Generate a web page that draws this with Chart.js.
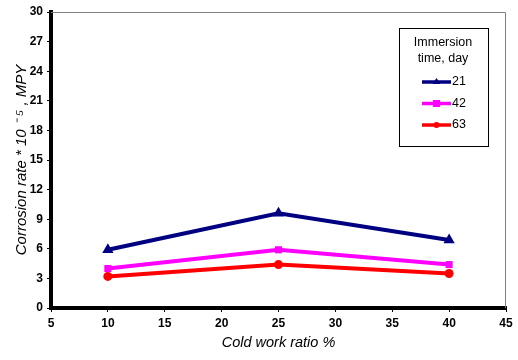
<!DOCTYPE html>
<html><head><meta charset="utf-8">
<script src="https://cdn.jsdelivr.net/npm/chart.js@4/dist/chart.umd.min.js"></script>
<style>html,body{margin:0;padding:0;background:#fff}#wrap{width:518px;height:360px;position:relative}</style>
</head><body><div id="wrap"><canvas id="c" width="518" height="360"></canvas></div>
<script>
const coldWork = [10, 25, 40];
const seriesNames = ['21', '42', '63'];
const rate21 = [5.9, 9.6, 6.9];
const rate42 = [4.0, 5.9, 4.4];
const rate63 = [3.2, 4.4, 3.5];
const yTicks = [0, 3, 6, 9, 12, 15, 18, 21, 24, 27, 30];
const xTicks = [5, 10, 15, 20, 25, 30, 35, 40, 45];
const legendTitle = ['Immersion', 'time, day'];

const pts = v => coldWork.map((x, i) => ({x, y: v[i]}));
const tickFont = {family: '"Liberation Sans", Arial, sans-serif', size: 12, weight: 'bold'};
const xTitleFont = {family: '"Liberation Sans", Arial, sans-serif', size: 14.5, style: 'italic'};
const yTitleFont = {family: '"Liberation Sans", Arial, sans-serif', size: 15, style: 'italic'};

const frame = {
  id: 'frame',
  afterDatasetsDraw(chart) {
    const {ctx, chartArea: a} = chart;
    ctx.save();
    ctx.strokeStyle = '#808080'; ctx.lineWidth = 1;
    ctx.beginPath();
    ctx.moveTo(a.left, a.top + 0.5); ctx.lineTo(a.right - 0.5, a.top + 0.5); ctx.lineTo(a.right - 0.5, a.bottom);
    ctx.stroke();
    // legend box
    const bx = 399, by = 28, bw = 89, bh = 118;
    ctx.fillStyle = '#fff'; ctx.fillRect(bx, by, bw, bh);
    ctx.strokeStyle = '#000'; ctx.lineWidth = 1;
    ctx.strokeRect(bx + 0.5, by + 0.5, bw, bh);
    ctx.fillStyle = '#000';
    ctx.font = '12.5px "Liberation Sans", Arial, sans-serif';
    ctx.textAlign = 'center'; ctx.textBaseline = 'middle';
    legendTitle.forEach((t, i) => ctx.fillText(t, 443, 43 + i * 16));
    chart.data.datasets.forEach((ds, i) => {
      const y = 82 + i * 21.5;
      ctx.strokeStyle = ds.borderColor; ctx.lineWidth = 3.5;
      ctx.beginPath(); ctx.moveTo(422, y); ctx.lineTo(451, y); ctx.stroke();
      ctx.fillStyle = ds.borderColor;
      const m = 436.5;
      if (ds.pointStyle === 'triangle') {
        ctx.beginPath(); ctx.moveTo(m, y - 4); ctx.lineTo(m + 4, y + 2); ctx.lineTo(m - 4, y + 2); ctx.closePath(); ctx.fill();
      } else if (ds.pointStyle === 'rect') {
        ctx.fillRect(m - 3.5, y - 3.5, 7, 7);
      } else {
        ctx.beginPath(); ctx.arc(m, y, 3, 0, Math.PI * 2); ctx.fill();
      }
      ctx.fillStyle = '#000'; ctx.textAlign = 'left';
      ctx.fillText(ds.label, 452, y);
      ctx.textAlign = 'center';
    });
    ctx.restore();
  }
};

const mk = (label, data, color, style, r) => ({
  label, data: pts(data), borderColor: color, backgroundColor: color,
  borderWidth: 4, pointStyle: style, pointRadius: r, pointBorderWidth: 0, tension: 0
});

new Chart(document.getElementById('c'), {
  type: 'line',
  data: {datasets: [
    mk(seriesNames[0], rate21, '#000080', 'triangle', 6.5),
    mk(seriesNames[1], rate42, '#FF00FF', 'rect', 5),
    mk(seriesNames[2], rate63, '#FF0000', 'circle', 4.5)
  ]},
  options: {
    responsive: false, animation: false,
    layout: {padding: {top: 12, right: 12, left: 0, bottom: 0}},
    plugins: {legend: {display: false}, tooltip: {enabled: false}},
    scales: {
      x: {
        type: 'linear', min: 5, max: 45,
        afterBuildTicks: s => { s.ticks = xTicks.map(v => ({value: v})); },
        afterFit: s => { s.height = 52; },
        grid: {drawOnChartArea: false, drawTicks: true, tickLength: 4, color: '#000', tickWidth: 1},
        border: {display: true, color: '#000', width: 4},
        ticks: {color: '#000', font: tickFont, padding: 4, maxRotation: 0},
        title: {display: true, text: 'Cold work ratio %', color: '#000', font: xTitleFont, padding: {top: 0, bottom: 8}}
      },
      y: {
        min: 0, max: 30,
        afterBuildTicks: s => { s.ticks = yTicks.map(v => ({value: v})); },
        afterFit: s => { s.width = 51; },
        grid: {drawOnChartArea: false, drawTicks: true, tickLength: 4, color: '#000', tickWidth: 1},
        border: {display: true, color: '#000', width: 4},
        ticks: {color: '#000', font: tickFont, padding: 4},
        title: {display: true, text: 'Corrosion rate * 10 \u207B \u2075 , MPY', color: '#000', font: yTitleFont, padding: {top: 13, bottom: 0}}
      }
    }
  },
  plugins: [frame]
});
</script></body></html>
